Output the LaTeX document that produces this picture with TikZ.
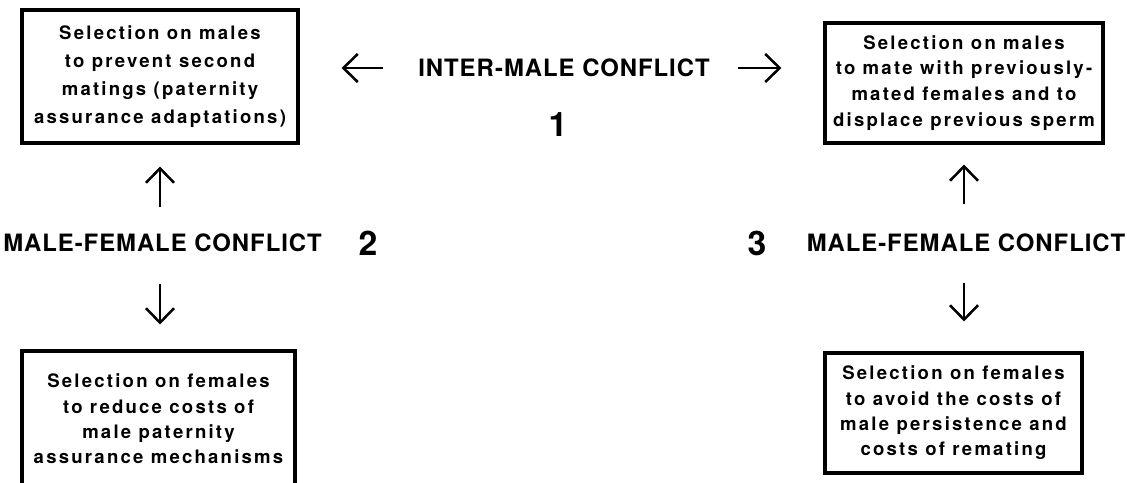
\documentclass[tikz,border=0pt]{standalone}
\usepackage{fontspec}
\setmainfont{TeX Gyre Heros}
\newfontfamily\boxfont{TeX Gyre Heros}[LetterSpace=12]
\newfontfamily\lblfont{TeX Gyre Heros}[LetterSpace=4]
\usetikzlibrary{positioning, arrows.meta, calc}

\begin{document}
\begin{tikzpicture}[
    % lettered boxes and free labels
    box/.style={draw=black, line width=2.2pt, align=center, inner sep=0pt,
                font=\boxfont\bfseries\fontsize{13.2}{#1}\selectfont},
    lbl/.style={inner sep=0pt, font=\lblfont\bfseries\fontsize{17}{20}\selectfont},
    num/.style={inner sep=0pt, font=\bfseries\fontsize{24}{28}\selectfont},
    arr/.style={-{Straight Barb[length=3.6mm, width=7mm]}, line width=1.8pt}
]

\useasboundingbox (0,0) rectangle (28.175,-12.075);

% ===== selection on males =====
\node[box=19.9pt, minimum width=6.9cm, minimum height=3.325cm] (mleft) at (4.0, -1.9125)
    {Selection on males\\to prevent second\\matings (paternity\\assurance adaptations)};
\node[box=18.4pt, minimum width=6.95cm, minimum height=3.0cm] (mright) at (24.1, -2.075)
    {Selection on males\\to mate with previously-\\mated females and to\\displace previous sperm};

% ===== selection on females =====
\node[box=18pt, minimum width=6.825cm, minimum height=3.4cm] (fleft) at (3.9625, -10.475)
    {Selection on females\\to reduce costs of\\male paternity\\assurance mechanisms};
\node[box=18pt, minimum width=6.425cm, minimum height=3.0cm] (fright) at (23.8375, -10.325)
    {Selection on females\\to avoid the costs of\\male persistence and\\costs of remating};

% ===== conflicts =====
\node[lbl] (inter) at (14.1, -1.7) {INTER-MALE CONFLICT};
\node[num] (n1) at (13.95, -3.125) {1};
\node[lbl] (mfleft) at (4.0625, -6.075) {MALE-FEMALE CONFLICT};
\node[num] (n2) at (9.2, -6.075) {2};
\node[num] (n3) at (18.925, -6.075) {3};
\node[lbl] (mfright) at (24.15, -6.075) {MALE-FEMALE CONFLICT};

% arrows out of the conflicts
\draw[arr, shorten <=0.875cm, shorten >=1.05cm] (inter.west) -- (inter.west -| mleft.east);
\draw[arr, shorten <=0.7cm, shorten >=1.05cm] (inter.east) -- (inter.east -| mright.west);
\draw[arr, shorten <=0.66cm, shorten >=0.55cm] (mleft.south |- mfleft.north) -- (mleft.south);
\draw[arr, shorten <=0.79cm, shorten >=0.625cm] (mleft.south |- mfleft.south) -- (mleft.south |- fleft.north);
\draw[arr, shorten <=0.74cm, shorten >=0.5cm] (mright.south |- mfright.north) -- (mright.south);
\draw[arr, shorten <=0.76cm, shorten >=0.75cm] (mright.south |- mfright.south) -- (mright.south |- fright.north);

\end{tikzpicture}
\end{document}
